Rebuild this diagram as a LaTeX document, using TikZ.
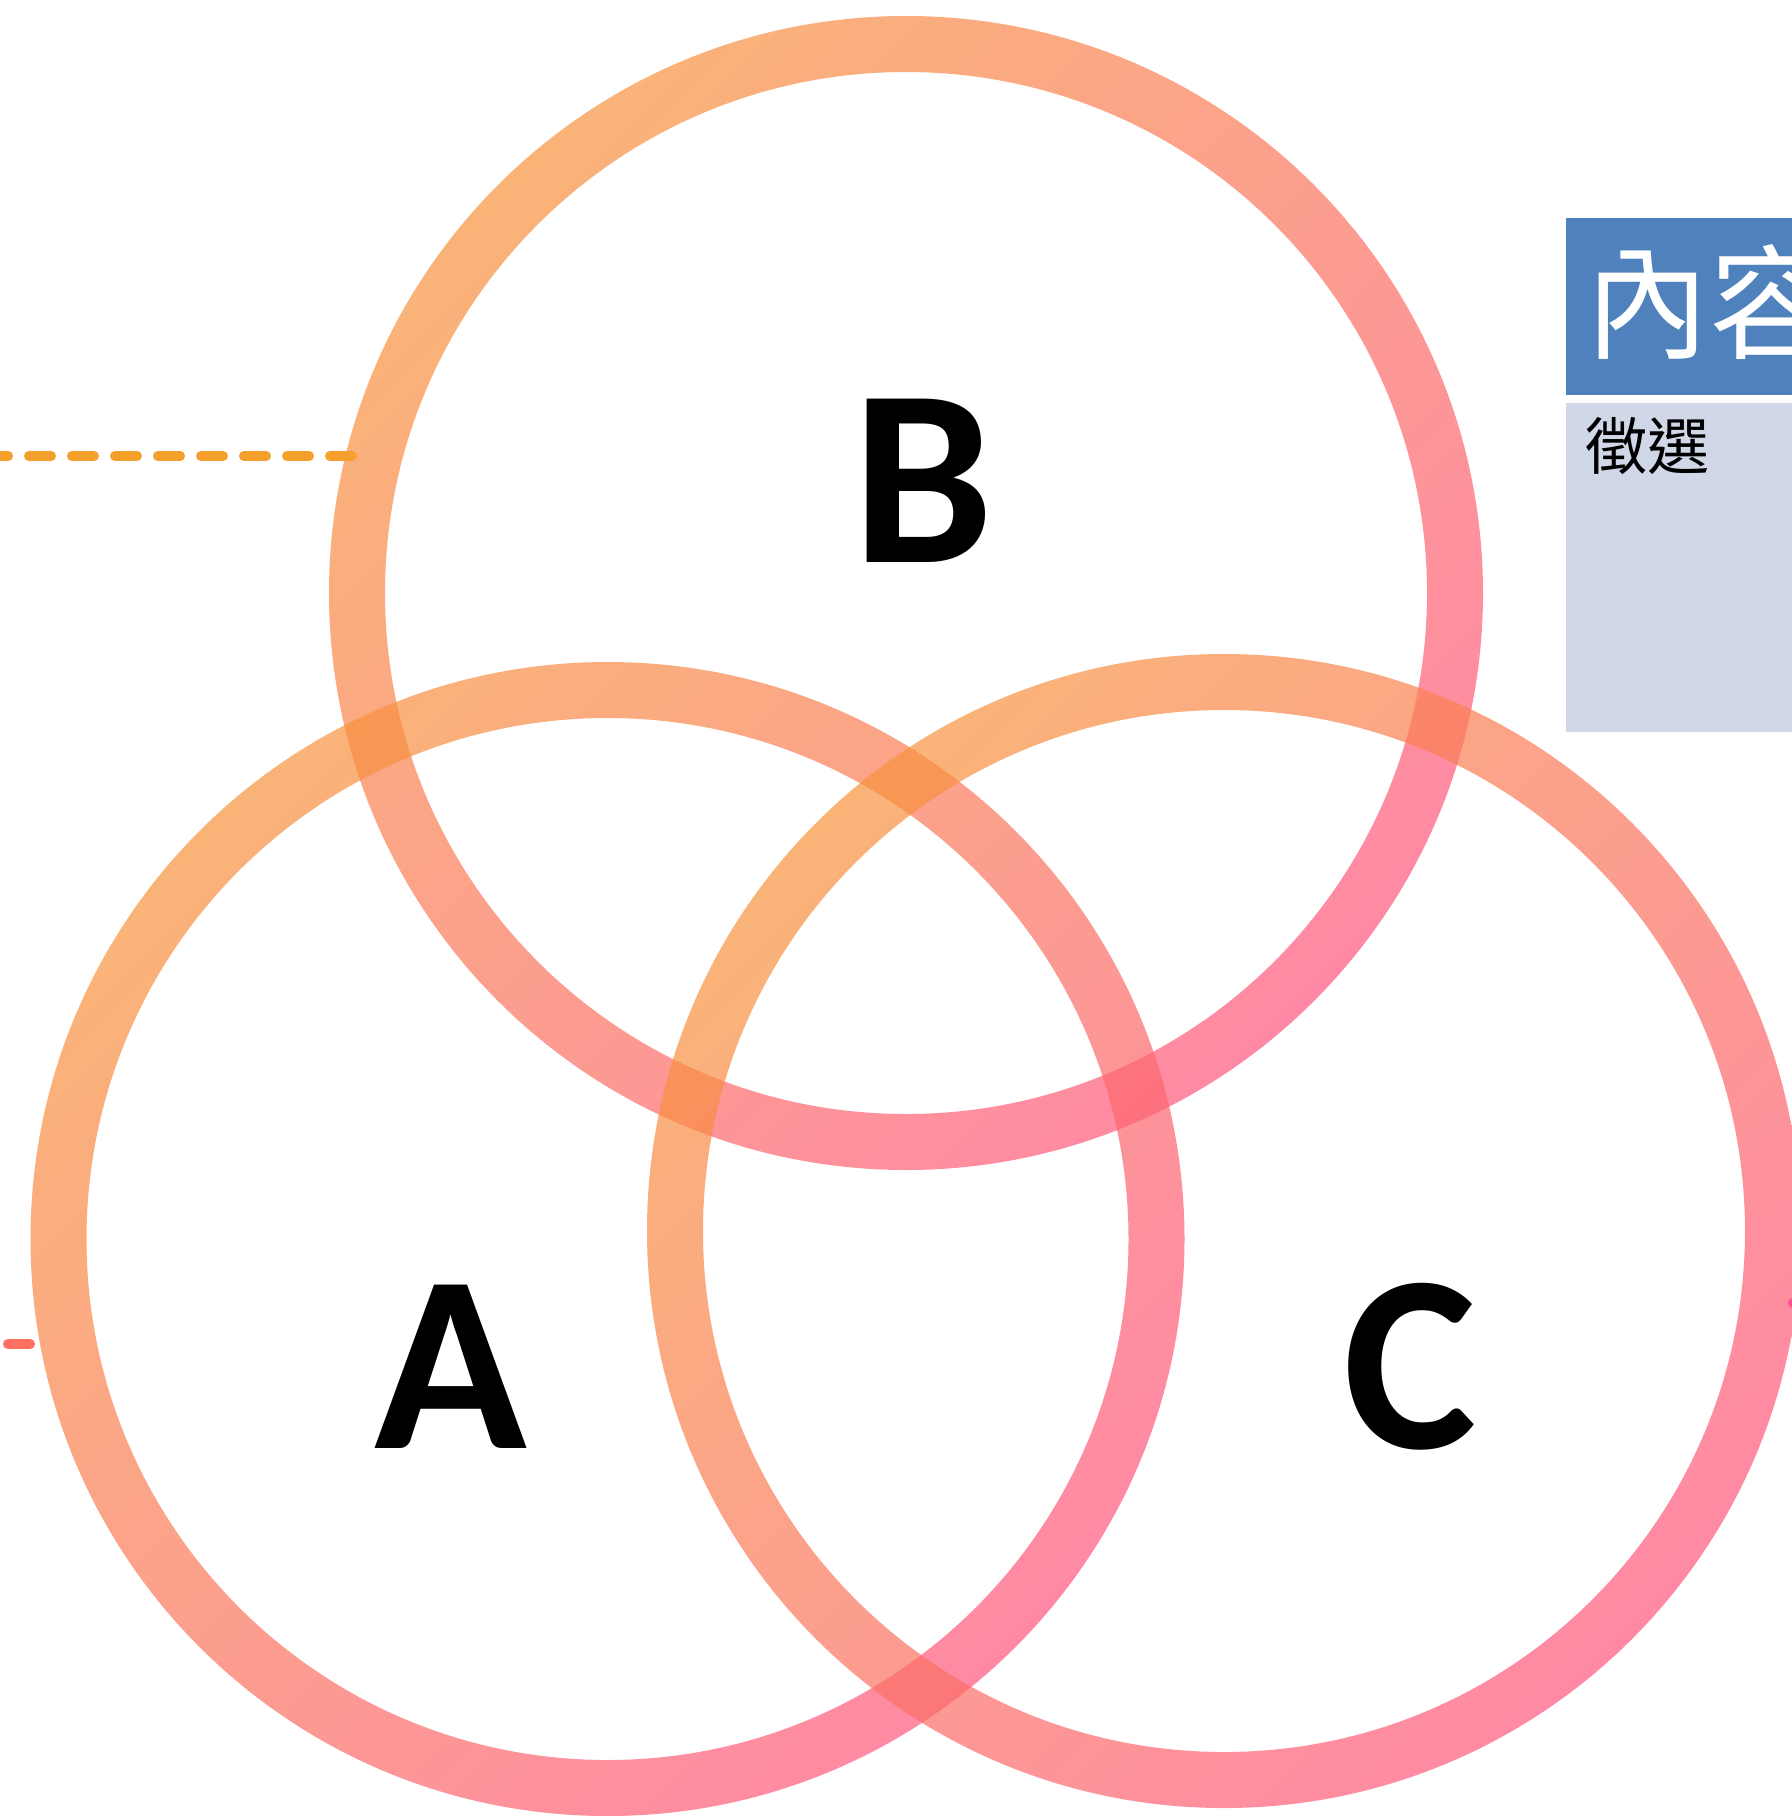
\documentclass[tikz,border=0pt]{standalone}
\usepackage{fontspec}
\newfontfamily\cjk{Noto Sans CJK TC}
\newfontfamily\carl{Carlito}
\definecolor{ringOrange}{RGB}{248,148,62}
\definecolor{ringPink}{RGB}{255,88,127}
\definecolor{hdrBlue}{RGB}{79,129,189}
\definecolor{bodyBlue}{RGB}{208,216,232}
\definecolor{dashOrange}{RGB}{245,160,45}
\definecolor{dashRed}{RGB}{255,112,96}
\definecolor{dashPink}{RGB}{255,77,143}
\tikzset{
  ring/.style={even odd rule, fill opacity=0.7, top color=ringOrange, bottom color=ringPink, shading angle=45},
  dashline/.style={line width=5pt, line cap=round, dash pattern=on 11pt off 10.5pt},
  bigletter/.style={inner sep=0pt, anchor=base, font=\carl\bfseries\fontsize{126}{126}\selectfont, text=black},
}
\begin{document}
\begin{tikzpicture}[x=0.5pt,y=-0.5pt]
\useasboundingbox (0,0) rectangle (1792,1816);
\clip (0,0) rectangle (1792,1816);
\fill[white] (0,0) rectangle (1792,1816);
% right-hand boxes
\fill[hdrBlue] (1566,218) rectangle (1900,395);
\fill[bodyBlue] (1566,403) rectangle (1900,732);
\node[inner sep=0pt, anchor=west, text=white, font=\cjk\fontsize{62}{62}\selectfont] (hdr) at (1585,302) {內容};
\node[inner sep=0pt, anchor=west, text=black, font=\cjk\fontsize{31}{31}\selectfont] (body) at (1585,446) {徵選};
% rings
\coordinate (cB) at (906,593);
\coordinate (cA) at (607.5,1239);
\coordinate (cC) at (1224,1231);
\shade[ring] (cB) circle[radius=577] (cB) circle[radius=521];
\shade[ring] (cA) circle[radius=577] (cA) circle[radius=521];
\shade[ring] (cC) circle[radius=577] (cC) circle[radius=521];
% letters
\node[bigletter] (lB) at (923,562) {B};
\node[bigletter] (lA) at (451,1448) {A};
\node[bigletter] (lC) at (1410,1448) {C};
% dashed leaders
\coordinate (oE) at (352,456);
\coordinate (oS) at (-30,456);
\draw[dashline, dashOrange] (oE) -- (oS);
\coordinate (rE) at (30,1344);
\coordinate (rS) at (8,1344);
\draw[line width=5pt, line cap=round, dashRed] (rS) -- (rE);
\coordinate (pS) at (1793,1303);
\coordinate (pE) at (1815,1303);
\draw[line width=5pt, line cap=round, dashPink] (pS) -- (pE);
\end{tikzpicture}
\end{document}
